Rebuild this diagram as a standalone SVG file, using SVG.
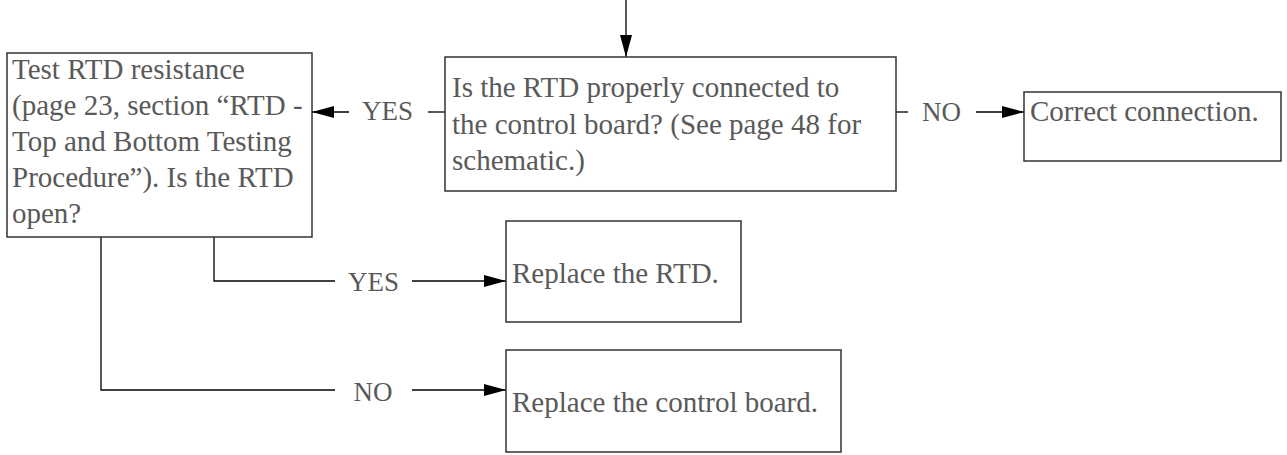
<svg xmlns="http://www.w3.org/2000/svg" width="1287" height="455" viewBox="0 0 1287 455">
<style>
.box{fill:#fff;stroke:#333;stroke-width:1.5}
.t{font-family:"Liberation Serif","Times New Roman",serif;font-size:29px;fill:#595959}
.lbl{font-family:"Liberation Serif","Times New Roman",serif;font-size:27px;fill:#595959;text-anchor:middle}
.c{fill:none;stroke:#000;stroke-width:1.3}
</style>
<defs>
<marker id="ah" markerUnits="userSpaceOnUse" markerWidth="22" markerHeight="12" refX="22" refY="6" orient="auto">
<path d="M0,0 L22,6 L0,12 z" fill="#000"/>
</marker>
</defs>
<g id="connectors">
<line class="c" x1="626" y1="0" x2="626" y2="57" marker-end="url(#ah)"/>
<line class="c" x1="445" y1="112" x2="428" y2="112"/>
<line class="c" x1="349" y1="112" x2="312" y2="112" marker-end="url(#ah)"/>
<text class="lbl" x="387.5" y="120">YES</text>
<line class="c" x1="896" y1="112" x2="908" y2="112"/>
<line class="c" x1="976" y1="112" x2="1024" y2="112" marker-end="url(#ah)"/>
<text class="lbl" x="941.5" y="121">NO</text>
<path class="c" d="M214,237 V281 H335"/>
<line class="c" x1="412" y1="281" x2="506" y2="281" marker-end="url(#ah)"/>
<text class="lbl" x="373.5" y="291">YES</text>
<path class="c" d="M101,237 V390 H335"/>
<line class="c" x1="412" y1="390" x2="506" y2="390" marker-end="url(#ah)"/>
<text class="lbl" x="373" y="401">NO</text>
</g>
<g id="test-rtd">
<rect class="box" x="7" y="53" width="305" height="184"/>
<text class="t" x="12" y="79">Test RTD resistance</text>
<text class="t" x="12" y="115">(page 23, section “RTD -</text>
<text class="t" x="12" y="151">Top and Bottom Testing</text>
<text class="t" x="12" y="187">Procedure”). Is the RTD</text>
<text class="t" x="12" y="223">open?</text>
</g>
<g id="rtd-connected">
<rect class="box" x="445" y="57" width="451" height="134"/>
<text class="t" x="452" y="97">Is the RTD properly connected to</text>
<text class="t" x="452" y="134">the control board? (See page 48 for</text>
<text class="t" x="452" y="170">schematic.)</text>
</g>
<g id="correct-connection">
<rect class="box" x="1024" y="92" width="257" height="69"/>
<text class="t" x="1030" y="121">Correct connection.</text>
</g>
<g id="replace-rtd">
<rect class="box" x="506" y="221" width="235" height="101"/>
<text class="t" x="512" y="283">Replace the RTD.</text>
</g>
<g id="replace-board">
<rect class="box" x="506" y="350" width="335" height="102"/>
<text class="t" x="512" y="412">Replace the control board.</text>
</g>
</svg>
